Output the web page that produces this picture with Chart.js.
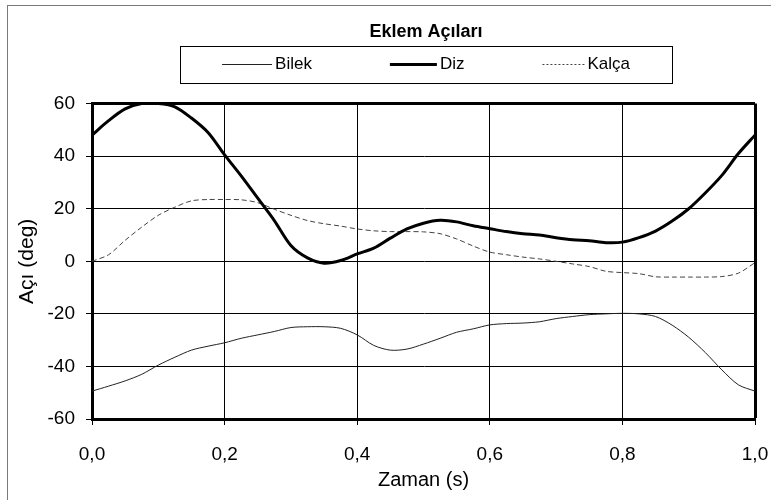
<!DOCTYPE html>
<html>
<head>
<meta charset="utf-8">
<script src="https://cdn.jsdelivr.net/npm/chart.js@4.4.1/dist/chart.umd.min.js"></script>
<style>
  html, body { margin: 0; padding: 0; overflow: hidden; background: #fff; }
  #cerceve { position: absolute; left: 7px; top: 5px; width: 900px; height: 600px; border: 1px solid #7a7a7a; }
  #grafik { position: absolute; left: 0; top: 0; }
</style>
</head>
<body>
<div id="cerceve"></div>
<canvas id="grafik" width="852" height="500"></canvas>
<script>
// zaman (s) ekseni, okunan noktalar
const zaman = [0, 0.025, 0.05, 0.075, 0.1, 0.125, 0.15, 0.175, 0.2, 0.225,
  0.25, 0.275, 0.3, 0.325, 0.35, 0.375, 0.4, 0.425, 0.45, 0.475,
  0.5, 0.525, 0.55, 0.575, 0.6, 0.625, 0.65, 0.675, 0.7, 0.725,
  0.75, 0.775, 0.8, 0.825, 0.85, 0.875, 0.9, 0.925, 0.95, 0.975, 1];

const bilek = [-49.4, -47.5, -45.5, -43, -39.5, -36.5, -33.8, -32.3, -31, -29.3,
  -28, -26.7, -25.2, -24.9, -24.9, -25.5, -28, -32, -33.8, -33.4,
  -31.5, -29.3, -27, -25.7, -24.2, -23.7, -23.5, -23, -21.8, -21,
  -20.3, -20, -19.8, -20, -21, -24.3, -28.9, -34.7, -41.3, -47, -49.4];

const diz = [48, 53.5, 58, 60, 60, 58.8, 54.5, 49, 40.5, 32.5,
  24, 15.5, 6, 1.3, -0.7, 0.3, 2.8, 5, 8.8, 12.3,
  14.5, 15.6, 15, 13.5, 12.4, 11.3, 10.5, 10, 9, 8.2,
  7.8, 7.1, 7.3, 9, 11.5, 15.3, 20, 26, 32.7, 41, 48];

const kalca = [0, 2.5, 8, 13, 17.5, 20.6, 23, 23.5, 23.5, 23.4,
  22.3, 19.8, 17.5, 15.5, 14.3, 13.4, 12.3, 11.6, 11.3, 11.3,
  11.2, 10.5, 8.5, 5.8, 3.5, 2.5, 1.6, 0.9, 0, -1,
  -2, -3.8, -4.3, -4.7, -5.9, -6, -6, -6, -5.8, -4.5, -0.5];

const yazi = "'Liberation Sans', Arial, sans-serif";
Chart.defaults.font.family = yazi;
Chart.defaults.color = "#000";

function noktalar(seri) {
  return zaman.map((t, i) => ({ x: t, y: seri[i] }));
}

// kutulu lejant (grafigin ustunde, ortada)
const kutuLejant = {
  id: "kutuLejant",
  afterDraw(chart) {
    const ctx = chart.ctx;
    const cx = chart.width / 2;
    const ust = 46, yuk = 37, gen = 492;
    ctx.save();
    ctx.strokeStyle = "#000";
    ctx.lineWidth = 1;
    ctx.strokeRect(Math.round(cx - gen / 2) + 0.5, ust + 0.5, gen, yuk);
    ctx.font = "17px " + yazi;
    ctx.textBaseline = "middle";
    const bosluk = 3, ara = 78;
    const setler = chart.data.datasets;
    let toplam = 0;
    setler.forEach((ds, i) => {
      toplam += ds.legendLen + bosluk + ctx.measureText(ds.label).width + (i ? ara : 0);
    });
    let x = cx - toplam / 2;
    const y = ust + yuk / 2;
    setler.forEach(ds => {
      ctx.beginPath();
      ctx.setLineDash(ds.legendDash || []);
      ctx.lineWidth = ds.borderWidth;
      ctx.strokeStyle = ds.borderColor;
      ctx.moveTo(x, y);
      ctx.lineTo(x + ds.legendLen, y);
      ctx.stroke();
      ctx.setLineDash([]);
      ctx.fillStyle = "#000";
      ctx.fillText(ds.label, x + ds.legendLen + bosluk, y);
      x += ds.legendLen + bosluk + ctx.measureText(ds.label).width + ara;
    });
    ctx.restore();
  }
};

new Chart(document.getElementById("grafik"), {
  type: "line",
  data: {
    datasets: [
      { label: "Bilek", data: noktalar(bilek), borderColor: "#222", borderWidth: 1, pointRadius: 0, tension: 0.3, legendLen: 50 },
      { label: "Diz", data: noktalar(diz), borderColor: "#000", borderWidth: 3, pointRadius: 0, tension: 0.3, legendLen: 47 },
      { label: "Kalça", data: noktalar(kalca), borderColor: "#444", borderWidth: 1, borderDash: [5, 3], legendDash: [2, 2], pointRadius: 0, tension: 0.3, legendLen: 42 }
    ]
  },
  options: {
    responsive: false,
    animation: false,
    layout: { padding: 0 },
    plugins: {
      legend: { display: false },
      tooltip: { enabled: false },
      title: {
        display: true,
        text: "Eklem Açıları",
        color: "#000",
        font: { size: 18, weight: "bold", lineHeight: 1.2 },
        padding: { top: 21, bottom: 61 }
      }
    },
    scales: {
      x: {
        type: "linear",
        min: 0,
        max: 1,
        afterFit: s => { s.height = 81; s.paddingRight = 97; },
        ticks: {
          stepSize: 0.2,
          maxRotation: 0,
          padding: 18,
          font: { size: 19 },
          callback: v => v.toFixed(1).replace(".", ",")
        },
        grid: {
          color: "#000",
          lineWidth: c => (c.tick && c.tick.value === 1 ? 3 : 1),
          tickLength: 6,
          tickWidth: 1,
          tickColor: "#000"
        },
        border: { color: "#000", width: 3 },
        title: {
          display: true,
          text: "Zaman (s)",
          font: { size: 20, lineHeight: 1.2 },
          padding: { top: 0, bottom: 8 }
        }
      },
      y: {
        min: -60,
        max: 60,
        afterFit: s => { s.width = 92; },
        ticks: { stepSize: 20, padding: 11, font: { size: 19 } },
        grid: {
          color: "#000",
          lineWidth: c => (c.tick && c.tick.value === 60 ? 3 : 1),
          tickLength: 6,
          tickWidth: 1,
          tickColor: "#000"
        },
        border: { color: "#000", width: 3 },
        title: {
          display: true,
          text: "Açı (deg)",
          font: { size: 21, lineHeight: 1.2 },
          padding: { top: 15, bottom: 0 }
        }
      }
    }
  },
  plugins: [kutuLejant]
});
</script>
</body>
</html>
